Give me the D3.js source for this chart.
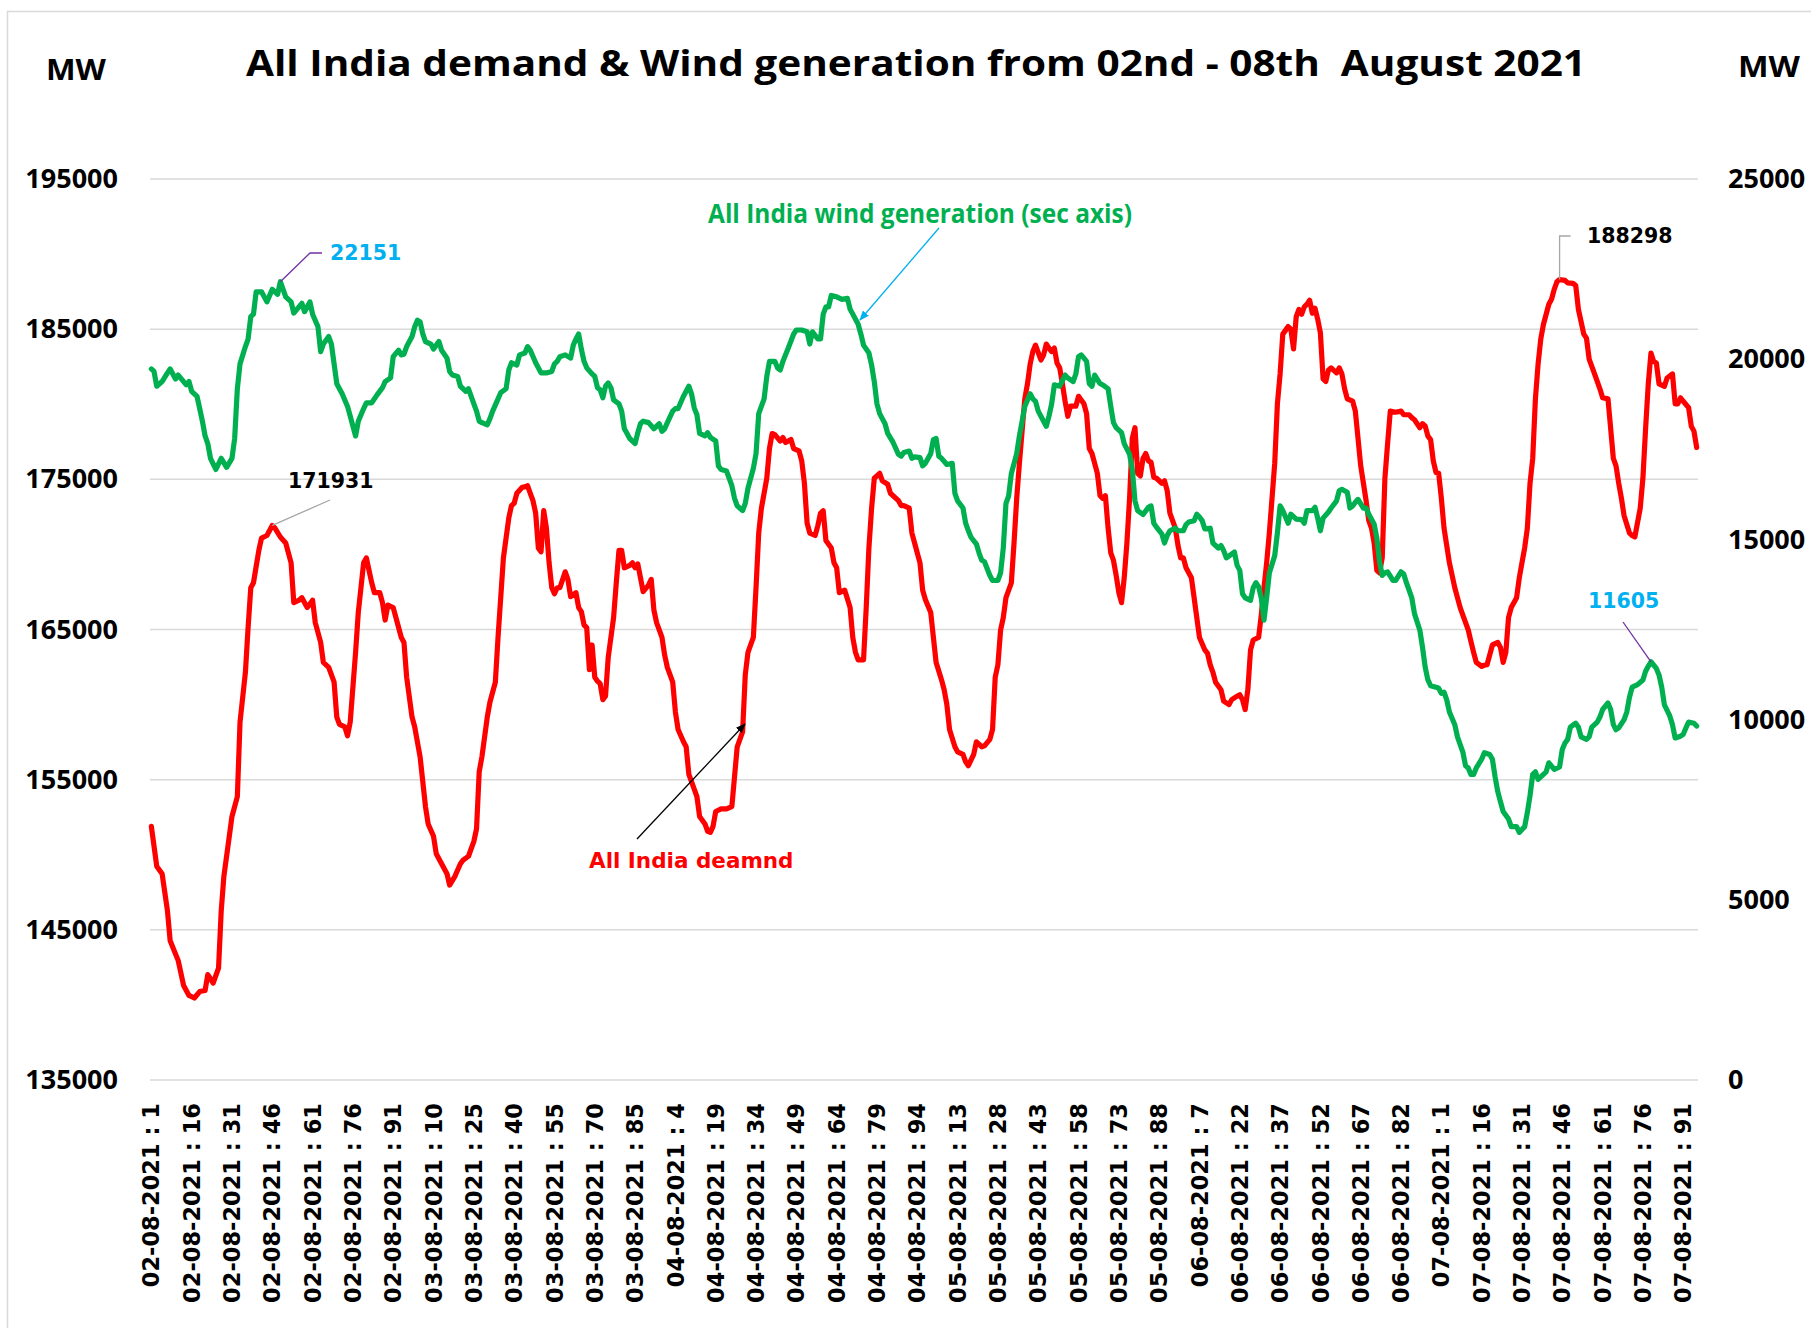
<!DOCTYPE html>
<html>
<head>
<meta charset="utf-8">
<script src="https://cdn.jsdelivr.net/npm/d3@7"></script>
<style>
  body { margin: 0; background: #fff; }
  text { font-family: "Open Sans", "Liberation Sans", sans-serif; font-weight: bold; }
  .vl { font-family: "DejaVu Sans", Verdana, sans-serif; font-weight: bold; }
</style>
</head>
<body>
<svg width="1811" height="1328"></svg>
<script>
// [time block index, MW] (96 blocks a day, 02-08 .. 07-08)
var demand = [
  [0,151890],[2,149240],[4,148740],[6,146260],[7,144270],[10,142950],[12,141290],[14,140630],[16,140460],[18,140890],
  [20,140960],[21,142020],[23,141460],[25,142450],[26,146260],[27,148580],[29,151230],[30,152550],[32,153870],[33,158840],
  [35,162150],[36,165130],[37,167780],[38,168110],[40,170270],[41,171090],[43,171260],[45,171930],[46,171750],[48,171160],
  [50,170760],[52,169440],[53,166790],[55,166950],[56,167120],[58,166460],[60,166950],[61,165460],[63,164140],[64,162810],
  [66,162480],[68,161490],[69,159170],[70,158680],[72,158510],[73,157920],[74,158840],[76,163480],[77,166130],[79,169440],
  [80,169770],[82,168110],[83,167450],[85,167450],[86,166790],[87,165630],[88,166620],[90,166460],[92,165130],[93,164470],
  [94,164140],[95,161820],[97,159170],[98,158510],[100,156520],[101,154870],[102,153210],[103,152050],[105,151230],[106,150070],
  [108,149400],[110,148740],[111,147980],[113,148580],[115,149400],[116,149640],[118,149900],[120,150890],[121,151720],[122,155530],
  [123,156520],[125,159170],[126,160170],[128,161490],[129,164470],[130,167120],[131,169770],[133,172420],[134,173250],[135,173410],
  [136,174070],[138,174470],[139,174500],[140,174570],[141,174070],[142,173580],[143,172750],[144,170430],[145,170170],[146,172910],
  [147,171750],[148,169440],[149,167780],[150,167380],[151,167780],[152,167780],[154,168840],[155,168340],[156,167190],[158,167450],
  [159,166460],[160,166190],[161,165300],[162,165130],[163,162320],[164,163970],[165,161820],[166,161560],[167,161390],[168,160330],
  [169,160560],[170,163150],[172,165790],[173,168110],[174,170270],[175,170270],[176,169110],[178,169270],[179,169440],[180,169110],
  [181,169370],[182,168440],[183,167520],[185,167950],[186,168340],[187,166290],[188,165460],[190,164470],[191,163300],[192,162480],
  [194,161490],[195,159500],[196,158340],[198,157520],[199,157190],[200,155360],[202,154370],[203,153870],[204,152550],[206,152050],
  [207,151560],[208,151490],[209,151890],[210,152880],[212,153050],[214,153050],[216,153210],[217,155200],[218,157190],[220,158180],
  [221,161990],[222,163480],[224,164470],[225,167780],[226,171420],[227,173080],[229,175070],[230,177050],[231,178050],[232,177980],
  [234,177550],[235,177780],[236,177450],[238,177650],[239,177050],[241,176890],[242,176230],[243,174740],[244,172090],[245,171420],
  [247,171260],[248,171920],[249,172750],[250,172910],[251,170930],[253,170430],[254,169440],[255,169110],[256,167450],[258,167620],
  [260,166460],[261,164470],[262,163480],[263,162980],[265,162980],[266,166460],[267,170430],[268,173080],[269,175070],[271,175400],
  [272,174900],[274,174670],[275,174070],[276,173910],[278,173580],[279,173250],[280,173250],[282,173080],[283,171420],[284,170760],
  [286,169440],[287,167620],[288,167000],[290,166130],[291,164470],[292,162810],[294,161660],[295,160990],[296,160000],[297,158340],
  [299,157190],[300,156850],[302,156690],[303,156190],[304,155930],[306,156690],[307,157520],[309,157190],[310,157250],[312,157680],
  [313,158340],[314,161820],[315,162650],[316,164970],[317,165790],[318,167120],[320,168110],[321,170760],[322,173740],[323,176060],
  [325,180360],[326,181360],[327,182680],[328,183510],[329,183940],[331,182950],[332,183280],[333,184010],[334,183740],[335,183510],
  [336,183740],[337,182750],[338,182420],[339,181360],[340,180200],[341,179200],[342,179870],[344,179870],[345,180530],[347,180030],
  [348,179370],[349,177050],[350,176720],[351,176060],[352,175400],[353,173910],[354,173740],[355,173910],[356,171750],[357,170100],
  [358,169600],[359,168610],[360,167450],[361,166790],[362,168440],[363,170760],[364,173740],[365,177720],[366,178440],[367,175400],
  [368,175230],[369,176390],[370,176720],[371,176230],[372,176130],[373,175130],[374,175070],[376,174740],[377,174900],[378,174240],
  [379,172750],[381,171750],[382,170600],[383,169770],[384,169770],[385,169110],[387,168440],[388,167120],[389,165790],[390,164470],
  [392,163640],[393,163410],[394,162650],[395,162150],[396,161490],[398,160990],[399,160230],[401,160000],[402,160330],[404,160560],
  [405,160660],[406,160330],[407,159670],[408,160990],[409,163640],[410,164300],[412,164470],[413,165960],[414,167780],[415,169440],
  [416,171420],[418,176060],[419,180030],[420,182020],[421,184670],[423,185170],[424,185000],[425,183680],[426,185830],[427,186320],
  [428,185990],[429,186490],[430,186660],[431,186920],[432,186060],[433,186390],[434,185660],[435,184740],[436,181690],[437,181520],
  [438,182280],[439,182420],[441,182090],[442,182420],[443,182020],[444,181030],[445,180360],[447,180200],[448,179540],[449,177720],
  [450,175890],[451,174740],[452,173580],[453,172250],[454,171750],[455,170760],[456,168940],[457,168770],[458,169770],[459,175070],
  [460,177380],[461,179540],[463,179470],[465,179540],[466,179300],[468,179300],[469,179110],[470,178970],[472,178440],[473,178710],
  [474,178540],[475,177880],[476,177650],[477,176230],[478,175460],[479,175400],[480,173740],[481,171750],[483,169440],[485,167780],
  [486,167120],[487,166460],[488,165960],[490,164970],[491,164210],[492,163480],[493,162810],[495,162550],[496,162620],[497,162650],
  [498,163310],[499,163970],[501,164140],[502,163810],[503,162810],[504,163480],[505,165790],[506,166460],[508,167120],[509,168440],
  [510,169440],[511,170430],[512,171750],[513,174740],[514,176390],[515,180360],[516,182680],[517,184340],[518,185330],[519,185990],
  [520,186660],[521,186990],[522,187650],[523,188150],[524,188300],[526,188250],[527,188080],[529,188050],[530,187910],[531,186320],
  [533,184670],[534,184400],[535,183010],[537,182020],[538,181520],[539,181030],[540,180430],[542,180360],[543,178380],[544,176390],
  [545,175890],[546,174740],[547,173740],[548,172580],[550,171420],[551,171260],[552,171160],[554,173080],[555,175070],[556,178380],
  [557,181360],[558,183410],[559,182850],[560,182750],[561,181360],[563,181190],[564,181750],[566,182020],[567,180030],[568,180030],
  [569,180430],[570,180200],[572,179770],[573,178540],[574,178210],[575,177120]
];

var wind = [
  [0,19730],[1,19660],[2,19250],[4,19380],[6,19620],[7,19730],[9,19450],[10,19560],[12,19380],[13,19290],
  [14,19380],[15,19110],[17,18970],[18,18630],[19,18280],[20,17870],[21,17660],[22,17250],[24,16940],[26,17250],
  [28,17000],[30,17250],[31,17800],[32,19180],[33,19870],[35,20350],[36,20560],[37,21180],[38,21250],[39,21870],
  [41,21870],[43,21590],[45,21940],[47,21800],[48,22151],[50,21730],[52,21590],[53,21280],[56,21550],[57,21320],
  [59,21590],[60,21250],[62,20900],[63,20210],[64,20420],[66,20630],[67,20420],[69,19320],[71,19040],[73,18690],
  [74,18420],[76,17870],[77,18280],[79,18630],[80,18790],[82,18790],[84,19010],[86,19210],[87,19380],[89,19480],
  [90,20070],[92,20250],[93,20120],[94,20140],[95,20350],[97,20630],[98,20900],[99,21080],[100,21040],[101,20700],
  [102,20490],[104,20420],[105,20280],[107,20490],[108,20250],[110,20030],[111,19660],[112,19560],[114,19520],[115,19250],
  [117,19110],[118,19180],[120,18760],[121,18560],[122,18280],[123,18240],[125,18180],[126,18350],[127,18560],[129,18900],
  [130,19070],[132,19180],[133,19700],[134,19900],[136,19840],[137,20120],[139,20170],[140,20350],[141,20250],[143,19900],
  [145,19620],[147,19620],[149,19660],[150,19870],[151,19940],[152,20070],[154,20120],[156,20030],[157,20390],[158,20560],
  [159,20700],[160,20280],[161,19940],[162,19760],[164,19590],[165,19520],[166,19210],[167,19150],[168,18930],[169,19250],
  [170,19340],[171,19210],[172,18870],[174,18760],[175,18560],[176,18070],[177,17940],[178,17800],[180,17660],[181,17960],
  [182,18210],[183,18280],[185,18240],[187,18070],[189,18210],[190,18000],[191,18070],[192,18240],[194,18560],[195,18630],
  [196,18630],[198,18970],[199,19110],[200,19250],[201,19040],[202,18650],[203,18460],[204,17940],[206,17870],[207,17960],
  [208,17830],[210,17730],[211,17040],[212,16940],[214,16900],[216,16490],[217,16140],[218,15930],[220,15800],[221,16000],
  [222,16420],[224,16970],[225,17380],[226,18490],[228,18900],[229,19520],[230,19940],[232,19940],[233,19760],[234,19700],
  [235,19940],[237,20310],[239,20700],[240,20810],[242,20810],[244,20760],[245,20420],[246,20760],[248,20560],[249,20560],
  [250,21250],[251,21450],[252,21450],[253,21770],[255,21730],[257,21660],[259,21690],[260,21390],[261,21250],[263,20970],
  [264,20700],[265,20390],[267,20170],[268,19840],[269,19380],[270,18760],[271,18490],[273,18210],[274,17940],[276,17690],
  [278,17360],[279,17310],[280,17410],[282,17450],[283,17250],[284,17290],[286,17270],[287,17040],[288,17110],[290,17380],
  [291,17770],[292,17800],[293,17310],[294,17250],[296,17080],[298,17110],[299,16280],[300,16070],[302,15870],[303,15450],
  [304,15240],[305,15060],[307,14870],[308,14620],[309,14420],[310,14380],[312,14000],[313,13860],[315,13860],[316,14070],
  [317,14760],[318,16000],[319,16210],[320,16830],[322,17380],[323,17870],[324,18280],[325,18690],[327,19040],[328,18900],
  [329,18830],[330,18560],[332,18280],[333,18140],[334,18420],[335,18760],[336,19290],[338,19250],[340,19560],[341,19480],
  [343,19380],[344,19590],[345,20070],[346,20120],[348,19940],[349,19320],[350,19250],[351,19560],[353,19320],[354,19290],
  [356,19180],[357,18690],[358,18240],[359,18100],[361,17960],[362,17660],[364,17360],[365,16940],[366,16070],[367,15800],
  [369,15690],[371,15890],[372,15930],[373,15450],[374,15340],[376,15150],[377,14900],[378,15110],[379,15240],[381,15310],
  [382,15240],[384,15240],[385,15410],[386,15480],[388,15520],[389,15700],[390,15620],[391,15520],[392,15290],[394,15310],
  [395,14900],[397,14760],[398,14830],[399,14690],[400,14490],[403,14650],[404,14280],[405,14140],[406,13490],[407,13380],
  [409,13310],[410,13660],[411,13800],[412,13690],[413,13380],[414,12760],[415,13380],[416,14070],[418,14550],[419,15180],
  [420,15930],[421,15800],[423,15450],[424,15700],[426,15560],[428,15550],[429,15450],[430,15800],[432,15800],[433,15890],
  [434,15590],[435,15240],[436,15590],[438,15760],[439,15870],[441,16070],[442,16350],[443,16390],[445,16310],[446,15870],
  [447,15930],[448,16030],[449,16110],[451,15870],[452,15870],[453,15700],[455,15420],[456,15040],[457,14380],[458,14000],
  [459,14070],[460,14100],[462,13860],[463,13860],[465,14100],[466,14040],[467,13800],[468,13590],[469,13380],[470,12940],
  [472,12480],[473,12000],[474,11450],[475,11100],[476,10940],[478,10900],[479,10870],[480,10730],[481,10760],[482,10550],
  [483,10210],[485,9860],[486,9520],[488,9100],[489,8720],[490,8660],[491,8480],[492,8480],[493,8660],[495,8900],
  [496,9080],[498,9030],[499,8900],[500,8410],[501,8000],[502,7720],[503,7450],[505,7240],[506,7030],[508,7030],
  [509,6870],[511,7030],[512,7420],[513,7890],[514,8480],[515,8550],[516,8340],[517,8410],[519,8550],[520,8800],
  [522,8620],[524,8690],[525,9170],[526,9350],[527,9450],[528,9790],[530,9900],[531,9790],[532,9520],[534,9450],
  [535,9520],[536,9790],[538,9930],[539,10070],[540,10280],[542,10460],[543,10280],[544,9860],[545,9720],[546,9770],
  [548,10000],[549,10210],[550,10620],[551,10900],[553,10970],[555,11100],[556,11340],[557,11480],[558,11605],[560,11420],
  [561,11240],[562,10900],[563,10410],[565,10100],[566,9860],[567,9490],[569,9540],[570,9590],[571,9770],[572,9930],
  [574,9900],[575,9820]
];

// category labels shown on the x axis, one every 15 blocks
var tickLabels = [
  "02-08-2021 : 1","02-08-2021 : 16","02-08-2021 : 31","02-08-2021 : 46","02-08-2021 : 61","02-08-2021 : 76","02-08-2021 : 91",
  "03-08-2021 : 10","03-08-2021 : 25","03-08-2021 : 40","03-08-2021 : 55","03-08-2021 : 70","03-08-2021 : 85",
  "04-08-2021 : 4","04-08-2021 : 19","04-08-2021 : 34","04-08-2021 : 49","04-08-2021 : 64","04-08-2021 : 79","04-08-2021 : 94",
  "05-08-2021 : 13","05-08-2021 : 28","05-08-2021 : 43","05-08-2021 : 58","05-08-2021 : 73","05-08-2021 : 88",
  "06-08-2021 : 7","06-08-2021 : 22","06-08-2021 : 37","06-08-2021 : 52","06-08-2021 : 67","06-08-2021 : 82",
  "07-08-2021 : 1","07-08-2021 : 16","07-08-2021 : 31","07-08-2021 : 46","07-08-2021 : 61","07-08-2021 : 76","07-08-2021 : 91"
];
var tickStep = 15;
var leftTicks  = [135000, 145000, 155000, 165000, 175000, 185000, 195000];
var rightTicks = [0, 5000, 10000, 15000, 20000, 25000];

var svg = d3.select("svg");
var plot = {left: 150, right: 1698, top: 179, bottom: 1080};

var x  = d3.scaleLinear().domain([-0.5, 575.5]).range([plot.left, plot.right]),
    yL = d3.scaleLinear().domain([135000, 195000]).range([plot.bottom, plot.top]),
    yR = d3.scaleLinear().domain([0, 25000]).range([plot.bottom, plot.top]);

// chart frame (right and bottom edges fall outside the picture)
svg.append("rect")
   .attr("x", 7.5).attr("y", 11.5)
   .attr("width", 1900).attr("height", 1400)
   .attr("fill", "#fff").attr("stroke", "#d9d9d9").attr("stroke-width", 1.5);

var defs = svg.append("defs");
function marker(id, color) {
  defs.append("marker")
      .attr("id", id).attr("viewBox", "0 0 10 10")
      .attr("refX", 9).attr("refY", 5)
      .attr("markerWidth", 10).attr("markerHeight", 10)
      .attr("markerUnits", "userSpaceOnUse")
      .attr("orient", "auto")
    .append("path").attr("d", "M0,1 L10,5 L0,9 Z").attr("fill", color);
}
marker("arrBlue", "#00b0f0");
marker("arrBlack", "#000");

// gridlines
svg.append("g").selectAll("line")
   .data(leftTicks).enter().append("line")
   .attr("x1", plot.left).attr("x2", plot.right)
   .attr("y1", function(d) { return yL(d); })
   .attr("y2", function(d) { return yL(d); })
   .attr("stroke", "#d9d9d9").attr("stroke-width", 1.5);

// left axis
var yAxisL = d3.axisLeft(yL).tickValues(leftTicks).tickFormat(d3.format("d")).tickSize(0).tickPadding(32);
svg.append("g").attr("transform", "translate(" + plot.left + ",0)").call(yAxisL)
   .call(function(g) { g.select(".domain").remove(); })
   .selectAll("text").attr("font-size", 27).attr("fill", "#000")
   .attr("font-family", "'Open Sans', sans-serif").attr("font-weight", "bold");

// right axis
var yAxisR = d3.axisRight(yR).tickValues(rightTicks).tickFormat(d3.format("d")).tickSize(0).tickPadding(30);
svg.append("g").attr("transform", "translate(" + plot.right + ",0)").call(yAxisR)
   .call(function(g) { g.select(".domain").remove(); })
   .selectAll("text").attr("font-size", 27).attr("fill", "#000")
   .attr("font-family", "'Open Sans', sans-serif").attr("font-weight", "bold");

// x category labels
svg.append("g").selectAll("text")
   .data(tickLabels).enter().append("text")
   .attr("class", "vl")
   .attr("transform", function(d, k) { return "translate(" + x(k * tickStep) + ",1103) rotate(-90)"; })
   .attr("text-anchor", "end")
   .attr("dy", "0.36em")
   .attr("font-size", 22.5)
   .text(function(d) { return d; });

// series
var lineL = d3.line().x(function(d) { return x(d[0]); }).y(function(d) { return yL(d[1]); });
var lineR = d3.line().x(function(d) { return x(d[0]); }).y(function(d) { return yR(d[1]); });

svg.append("path").datum(demand)
   .attr("d", lineL).attr("fill", "none")
   .attr("stroke", "#ff0000").attr("stroke-width", 5.2)
   .attr("stroke-linejoin", "round").attr("stroke-linecap", "round");

svg.append("path").datum(wind)
   .attr("d", lineR).attr("fill", "none")
   .attr("stroke", "#00b050").attr("stroke-width", 5.2)
   .attr("stroke-linejoin", "round").attr("stroke-linecap", "round");

// title and unit labels
svg.append("text").attr("x", 246).attr("y", 76)
   .attr("font-size", 36).attr("textLength", 1340).attr("lengthAdjust", "spacingAndGlyphs")
   .style("white-space", "pre")
   .text("All India demand & Wind generation from 02nd - 08th  August 2021");
svg.append("text").attr("x", 46).attr("y", 80).attr("font-size", 29)
   .attr("textLength", 60).attr("lengthAdjust", "spacingAndGlyphs").text("MW");
svg.append("text").attr("x", 1738).attr("y", 77).attr("font-size", 29)
   .attr("textLength", 62).attr("lengthAdjust", "spacingAndGlyphs").text("MW");

// series captions with arrows
svg.append("text").attr("x", 708).attr("y", 223).attr("font-size", 27)
   .attr("fill", "#00b050").attr("textLength", 424).attr("lengthAdjust", "spacingAndGlyphs")
   .text("All India wind generation (sec axis)");
svg.append("line").attr("x1", 939).attr("y1", 228).attr("x2", 860).attr("y2", 320)
   .attr("stroke", "#00b0f0").attr("stroke-width", 1.3).attr("marker-end", "url(#arrBlue)");

svg.append("text").attr("class", "vl").attr("x", 589).attr("y", 868).attr("font-size", 21.5)
   .attr("fill", "#ff0000").text("All India deamnd");
svg.append("line").attr("x1", 637).attr("y1", 839).attr("x2", 745).attr("y2", 724)
   .attr("stroke", "#000").attr("stroke-width", 1.3).attr("marker-end", "url(#arrBlack)");

// data callouts
function callout(pt, scale, pts, label, color, lineColor, tx, ty) {
  var p = [[x(pt[0]), scale(pt[1])]].concat(pts);
  svg.append("path").attr("d", d3.line()(p)).attr("fill", "none")
     .attr("stroke", lineColor).attr("stroke-width", 1.3);
  svg.append("text").attr("class", "vl").attr("x", tx).attr("y", ty)
     .attr("font-size", 20.5).attr("fill", color).text(label);
}
var dMaxA = demand.filter(function(d) { return d[0] === 45; })[0];
var dMaxB = demand.filter(function(d) { return d[0] === 524; })[0];
var wMaxA = wind.filter(function(d) { return d[0] === 48; })[0];
var wMaxB = wind.filter(function(d) { return d[0] === 558; })[0];
callout(wMaxA, yR, [[310, 253], [322, 253]], "22151", "#00b0f0", "#7030a0", 330, 260);
callout(dMaxA, yL, [[330, 500]], "171931", "#000", "#a6a6a6", 288, 488);
callout(dMaxB, yL, [[x(dMaxB[0]), 236], [x(dMaxB[0]) + 11, 236]], "188298", "#000", "#a6a6a6", 1587, 243);
callout(wMaxB, yR, [[1623, 622]], "11605", "#00b0f0", "#7030a0", 1588, 608);
</script>
</body>
</html>
